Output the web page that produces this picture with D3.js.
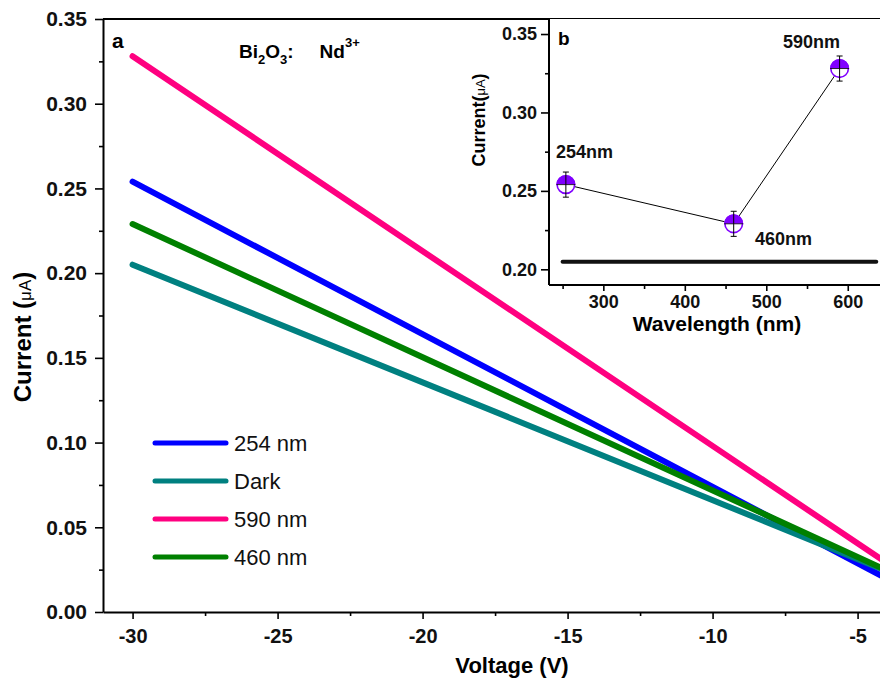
<!DOCTYPE html>
<html>
<head>
<meta charset="utf-8">
<script src="https://cdn.jsdelivr.net/npm/d3@7"></script>
<style>
  html, body { margin: 0; padding: 0; background: #fff; }
  svg { display: block; font-family: "Liberation Sans", Arial, sans-serif; }
  .tick text { font-weight: bold; fill: #111; }
</style>
</head>
<body>
<svg id="chart" width="880" height="684"></svg>
<script>
// I–V sweeps of Bi2O3:Nd3+ under different illumination
const voltage = [-30, -17, -4];
const current254 = [0.254, 0.137, 0.0198];
const currentDark = [0.205, 0.1147, 0.0243];
const current590 = [0.328, 0.1785, 0.029];
const current460 = [0.229, 0.1268, 0.0246];

const seriesNames = ["254 nm", "Dark", "590 nm", "460 nm"];
const seriesColors = ["#0000ff", "#008080", "#ff0080", "#008000"];

const xMajorTicks = [-30, -25, -20, -15, -10, -5];
const xMinorTicks = [-27.5, -22.5, -17.5, -12.5, -7.5, -2.5];
const yMajorTicks = [0, 0.05, 0.10, 0.15, 0.20, 0.25, 0.30, 0.35];
const yMinorTicks = [0.025, 0.075, 0.125, 0.175, 0.225, 0.275, 0.325];

// Inset: current at -30 V versus excitation wavelength
const wavelengths = [254, 460, 590];
const peakLabels = ["254nm", "460nm", "590nm"];
const peakCurrent = [0.254, 0.229, 0.328];
const peakError = [0.008, 0.008, 0.008];
const darkWavelength = [250, 635];
const darkCurrent = [0.2048, 0.2048];

const insetXMajor = [300, 400, 500, 600];
const insetXMinor = [250, 350, 450, 550, 650];
const insetYMajor = [0.20, 0.25, 0.30, 0.35];
const insetYMinor = [0.225, 0.275, 0.325];

const svg = d3.select("#chart");

// ---------- main panel ----------
const mLeft = 103, mTop = 19, mBottom = 612;
const x = d3.scaleLinear().domain([-31.02, 0]).range([mLeft, mLeft + 31.02 * 29]);
const y = d3.scaleLinear().domain([0, 0.35]).range([mBottom, mTop]);

svg.append("defs").append("clipPath").attr("id", "mainClip")
  .append("rect").attr("x", mLeft).attr("y", mTop).attr("width", 2000).attr("height", mBottom - mTop);

const allSeries = [current254, currentDark, current590, current460];
const line = d3.line().x((d, i) => x(voltage[i])).y(d => y(d));

const linesG = svg.append("g").attr("clip-path", "url(#mainClip)");
allSeries.forEach((s, k) => {
  linesG.append("path")
    .attr("d", line(s))
    .attr("fill", "none")
    .attr("stroke", seriesColors[k])
    .attr("stroke-width", 6)
    .attr("stroke-linecap", "round");
});

function styleAxis(g, fontSize) {
  g.selectAll(".domain").attr("stroke", "#000").attr("stroke-width", 2);
  g.selectAll(".tick line").attr("stroke", "#000").attr("stroke-width", 1.6);
  g.selectAll(".tick text").attr("font-size", fontSize);
}

const plainInt = d => String(d);

const xAxis = svg.append("g").attr("transform", `translate(0,${mBottom})`)
  .call(d3.axisBottom(x).tickValues(xMajorTicks).tickFormat(plainInt).tickSize(7).tickSizeOuter(0).tickPadding(10));
styleAxis(xAxis, 20);
const xMinor = svg.append("g").attr("transform", `translate(0,${mBottom})`)
  .call(d3.axisBottom(x).tickValues(xMinorTicks).tickFormat("").tickSize(4).tickSizeOuter(0));
styleAxis(xMinor, 20);

const yAxis = svg.append("g").attr("transform", `translate(${mLeft},0)`)
  .call(d3.axisLeft(y).tickValues(yMajorTicks).tickFormat(d3.format(".2f")).tickSize(8).tickSizeOuter(0).tickPadding(8));
styleAxis(yAxis, 21);
const yMinor = svg.append("g").attr("transform", `translate(${mLeft},0)`)
  .call(d3.axisLeft(y).tickValues(yMinorTicks).tickFormat("").tickSize(4).tickSizeOuter(0));
styleAxis(yMinor, 21);

// top frame line
svg.append("line").attr("x1", mLeft).attr("x2", 880).attr("y1", mTop).attr("y2", mTop)
  .attr("stroke", "#000").attr("stroke-width", 2);

// axis titles
svg.append("text").attr("x", 512).attr("y", 673).attr("text-anchor", "middle")
  .attr("font-size", 22).attr("font-weight", "bold").text("Voltage (V)");

const yTitle = svg.append("text")
  .attr("transform", "translate(31,337) rotate(-90)")
  .attr("text-anchor", "middle").attr("font-size", 24).attr("font-weight", "bold");
yTitle.append("tspan").text("Current (");
yTitle.append("tspan").attr("font-size", 17).attr("font-weight", "normal").text("μA");
yTitle.append("tspan").text(")");

// panel letter and sample label
svg.append("text").attr("x", 112).attr("y", 48).attr("font-size", 21).attr("font-weight", "bold").text("a");

const sample = svg.append("text").attr("x", 239).attr("y", 58).attr("font-size", 19).attr("font-weight", "bold");
sample.append("tspan").text("Bi");
sample.append("tspan").attr("font-size", 13).attr("dy", 6).text("2");
sample.append("tspan").attr("dy", -6).text("O");
sample.append("tspan").attr("font-size", 13).attr("dy", 6).text("3");
sample.append("tspan").attr("dy", -6).text(":");
sample.append("tspan").attr("dx", 26).text("Nd");
sample.append("tspan").attr("font-size", 13).attr("dy", -11).text("3+");

// legend
const legend = svg.append("g");
seriesNames.forEach((name, k) => {
  const ly = 443 + k * 38;
  legend.append("line").attr("x1", 155).attr("x2", 226).attr("y1", ly).attr("y2", ly)
    .attr("stroke", seriesColors[k]).attr("stroke-width", 5).attr("stroke-linecap", "round");
  legend.append("text").attr("x", 234).attr("y", ly + 8).attr("font-size", 22).attr("fill", "#111").text(name);
});

// ---------- inset panel ----------
const iLeft = 549, iTop = 19, iBottom = 285;
const ix = d3.scaleLinear().domain([233.3, 650]).range([iLeft, iLeft + (650 - 233.3) * 0.8147]);
const iy = d3.scaleLinear().domain([0.19, 0.36]).range([iBottom, iBottom - 0.17 / 0.05 * 78.43]);

svg.append("rect").attr("x", iLeft).attr("y", iTop).attr("width", 880 - iLeft).attr("height", iBottom - iTop)
  .attr("fill", "#fff");

// dark-current reference level
const darkLine = d3.line().x((d, i) => ix(darkWavelength[i])).y(d => iy(d));
svg.append("path").attr("d", darkLine(darkCurrent)).attr("fill", "none")
  .attr("stroke", "#111").attr("stroke-width", 4).attr("stroke-linecap", "round");

// connecting line
const peakLine = d3.line().x((d, i) => ix(wavelengths[i])).y(d => iy(d));
svg.append("path").attr("d", peakLine(peakCurrent)).attr("fill", "none")
  .attr("stroke", "#000").attr("stroke-width", 1);

const purple = "#8000ff";
const r = 9.5;
peakCurrent.forEach((v, i) => {
  const cx = ix(wavelengths[i]), cy = iy(v);
  const g = svg.append("g");
  g.append("circle").attr("cx", cx).attr("cy", cy).attr("r", r).attr("fill", "#fff");
  g.append("path").attr("d", `M${cx - r},${cy} A${r},${r} 0 0 1 ${cx + r},${cy} Z`).attr("fill", purple);
  g.append("circle").attr("cx", cx).attr("cy", cy).attr("r", r - 0.7).attr("fill", "none")
    .attr("stroke", purple).attr("stroke-width", 1.6);
  // error bar
  const yTop = iy(v + peakError[i]), yBot = iy(v - peakError[i]);
  g.append("line").attr("x1", cx).attr("x2", cx).attr("y1", yTop).attr("y2", yBot).attr("stroke", "#000").attr("stroke-width", 1);
  [yTop, yBot].forEach(yy => g.append("line").attr("x1", cx - 3).attr("x2", cx + 3).attr("y1", yy).attr("y2", yy)
    .attr("stroke", "#000").attr("stroke-width", 1));
  g.append("line").attr("x1", cx - r).attr("x2", cx + r).attr("y1", cy).attr("y2", cy).attr("stroke", "#000").attr("stroke-width", 0.8);
});

// peak labels
const labelPos = [[556, 158], [755, 245], [783, 48]];
peakLabels.forEach((t, i) => {
  svg.append("text").attr("x", labelPos[i][0]).attr("y", labelPos[i][1])
    .attr("font-size", 18).attr("font-weight", "bold").attr("fill", "#111").text(t);
});

const ixAxis = svg.append("g").attr("transform", `translate(0,${iBottom})`)
  .call(d3.axisBottom(ix).tickValues(insetXMajor).tickFormat(plainInt).tickSize(6).tickSizeOuter(0).tickPadding(4));
styleAxis(ixAxis, 18);
const ixMinor = svg.append("g").attr("transform", `translate(0,${iBottom})`)
  .call(d3.axisBottom(ix).tickValues(insetXMinor).tickFormat("").tickSize(4).tickSizeOuter(0));
styleAxis(ixMinor, 18);

const iyAxis = svg.append("g").attr("transform", `translate(${iLeft},0)`)
  .call(d3.axisLeft(iy).tickValues(insetYMajor).tickFormat(d3.format(".2f")).tickSize(8).tickSizeOuter(0).tickPadding(4));
styleAxis(iyAxis, 18);
const iyMinor = svg.append("g").attr("transform", `translate(${iLeft},0)`)
  .call(d3.axisLeft(iy).tickValues(insetYMinor).tickFormat("").tickSize(4).tickSizeOuter(0));
styleAxis(iyMinor, 18);

// keep inset frame lines confined to the panel
ixAxis.select(".domain").attr("d", `M${iLeft},0H880`);
ixMinor.select(".domain").remove();
iyAxis.select(".domain").attr("d", `M0,${iTop}V${iBottom}`);
iyMinor.select(".domain").remove();
xMinor.select(".domain").remove();
yMinor.select(".domain").remove();

svg.append("text").attr("x", 717).attr("y", 331).attr("text-anchor", "middle")
  .attr("font-size", 21).attr("font-weight", "bold").text("Wavelength (nm)");

const iyTitle = svg.append("text")
  .attr("transform", "translate(485,120) rotate(-90)")
  .attr("text-anchor", "middle").attr("font-size", 18).attr("font-weight", "bold");
iyTitle.append("tspan").text("Current(");
iyTitle.append("tspan").attr("font-size", 13).attr("font-weight", "normal").text("μA");
iyTitle.append("tspan").text(")");

svg.append("text").attr("x", 558).attr("y", 45).attr("font-size", 19).attr("font-weight", "bold").text("b");
</script>
</body>
</html>
